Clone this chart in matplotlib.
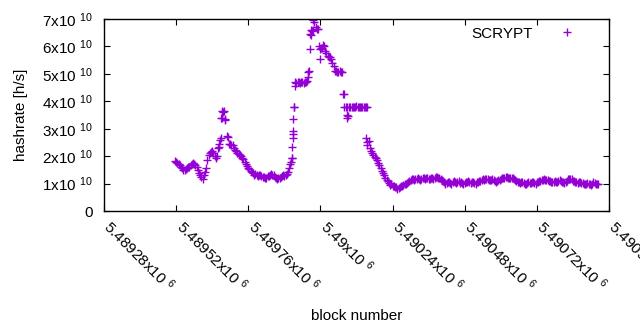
import numpy as np
import matplotlib.pyplot as plt
import matplotlib.transforms as mtransforms
from matplotlib.ticker import FuncFormatter, MultipleLocator

plt.rcParams['font.family'] = ['Liberation Sans', 'DejaVu Sans']
plt.rcParams['mathtext.fontset'] = 'custom'
plt.rcParams['mathtext.rm'] = 'Liberation Sans'
plt.rcParams['mathtext.default'] = 'regular'

# hashrate sampled every 8 blocks, in units of 1e10 h/s
first_block = 5489516
block_step = 8
rate = [
    1.82, 1.75, 1.68, 1.55, 1.50, 1.57, 1.62, 1.70, 1.72, 1.62,
    1.40, 1.25, 1.30, 1.55, 2.05, 2.15, 2.12, 1.95, 2.30, 2.65,
    3.60, 3.30, 2.70, 2.45, 2.40, 2.22, 2.12, 2.05, 1.95, 1.80,
    1.65, 1.52, 1.42, 1.33, 1.30, 1.30, 1.28, 1.25, 1.22, 1.28,
    1.35, 1.30, 1.22, 1.20, 1.25, 1.30, 1.30, 1.42, 1.70, 2.80,
    4.70, 4.70, 4.68, 4.70, 4.70, 4.75, 5.90, 6.55, 6.90, 6.65,
    6.00, 5.95, 6.00, 5.75, 5.60, 5.55, 5.30, 5.10, 5.05, 5.05,
    4.25, 3.80, 3.45, 3.80, 3.80, 3.80, 3.80, 3.80, 3.80, 3.80,
    3.80, 2.30, 2.10, 1.98, 1.85, 1.68, 1.45, 1.30, 1.12, 1.02,
    0.97, 0.92, 0.86, 0.85, 0.90, 0.95, 1.00, 1.05, 1.12, 1.18,
    1.15, 1.20, 1.12, 1.22, 1.18, 1.20, 1.15, 1.20, 1.22, 1.25,
    1.20, 1.12, 1.05, 1.02, 1.05, 1.00, 1.08, 1.03, 1.08, 1.05,
    1.00, 1.05, 1.08, 1.02, 1.05, 1.00, 1.06, 1.10, 1.15, 1.15,
    1.18, 1.12, 1.15, 1.10, 1.08, 1.14, 1.20, 1.22, 1.24, 1.20,
    1.22, 1.18, 1.10, 1.04, 1.06, 1.02, 1.00, 1.05, 1.02, 1.04,
    1.00, 1.06, 1.10, 1.14, 1.14, 1.12, 1.10, 1.04, 1.08, 1.05,
    1.12, 1.06, 1.02, 1.10, 1.18, 1.15, 1.08, 1.05, 1.05, 1.02,
    1.00, 0.98, 1.00, 0.95, 1.05, 0.98, 1.00,
]

# readings halfway between the samples above (offset by 4 blocks)
rate_mid = [
    1.78, 1.70, 1.62, 1.48, 1.54, 1.60, 1.66, 1.74, 1.68, 1.50,
    1.32, 1.18, 1.42, 1.85, 2.12, 2.18, 2.00, 2.02, 2.45, 3.40,
    3.65, 2.72, 2.45, 2.42, 2.30, 2.18, 2.08, 2.00, 1.88, 1.72,
    1.58, 1.46, 1.38, 1.35, 1.28, 1.32, 1.24, 1.20, 1.26, 1.32,
    1.32, 1.25, 1.18, 1.22, 1.28, 1.26, 1.35, 1.55, 1.95, 3.80,
    4.65, 4.72, 4.70, 4.68, 4.72, 5.05, 6.40, 6.60, 6.70, 6.62,
    5.90, 6.05, 5.85, 5.65, 5.62, 5.40, 5.10, 5.08, 5.10, 5.05,
    3.80, 3.80, 3.80, 3.78, 3.80, 3.82, 3.80, 3.78, 3.80, 3.80,
    2.55, 2.20, 2.05, 1.92, 1.75, 1.55, 1.38, 1.20, 1.08, 0.95,
    0.90, 0.88, 0.82, 0.88, 0.92, 0.98, 1.02, 1.10, 1.15, 1.12,
    1.18, 1.15, 1.18, 1.20, 1.22, 1.16, 1.22, 1.18, 1.24, 1.22,
    1.15, 1.08, 1.00, 1.04, 1.02, 1.05, 1.05, 1.06, 1.02, 1.03,
    1.03, 1.06, 1.04, 1.06, 1.02, 1.04, 1.08, 1.12, 1.12, 1.16,
    1.14, 1.14, 1.12, 1.06, 1.12, 1.17, 1.20, 1.25, 1.21, 1.20,
    1.20, 1.14, 1.06, 1.02, 1.04, 1.00, 1.03, 1.02, 1.05, 1.02,
    1.04, 1.08, 1.12, 1.16, 1.12, 1.10, 1.06, 1.06, 1.04, 1.08,
    1.08, 1.04, 1.06, 1.15, 1.16, 1.10, 1.06, 1.03, 1.04, 1.01,
    0.99, 1.01, 0.97, 1.00, 1.02, 0.99,
]

# extra blocks around the steep jumps
extra_blocks = [5489663, 5489666, 5489670, 5489674, 5489681,
                5489903, 5489904, 5489906, 5489908, 5489909, 5489910,
                5489913, 5489914, 5489959, 5489962, 5489966, 5489969,
                5489976, 5489997, 5490001, 5490077, 5490087, 5490089,
                5490152, 5490154, 5490156]
extra_rate = [2.35, 2.60, 3.40, 3.65, 3.35,
              1.80, 1.95, 2.35, 2.65, 2.90, 3.35,
              3.80, 4.55, 4.90, 5.10, 6.45, 6.60,
              6.95, 5.55, 5.95, 4.25, 3.50, 3.40,
              2.65, 2.50, 2.40]

blocks = first_block + block_step * np.arange(len(rate))
blocks_mid = first_block + block_step // 2 + block_step * np.arange(len(rate_mid))
x = np.concatenate([blocks, blocks_mid, extra_blocks])
y = np.concatenate([rate, rate_mid, extra_rate]) * 1e10

fig = plt.figure(figsize=(6.4, 3.3), dpi=100)
ax = fig.add_axes([0.1625, 0.3606, 0.789, 0.5818])

ax.plot(x, y, '+', color='#9400d3', markersize=5.5, markeredgewidth=1.0,
        label='SCRYPT')

ax.set_xlim(5489280, 5490960)
ax.set_ylim(0, 7e10)
ax.xaxis.set_major_locator(MultipleLocator(240))
ax.yaxis.set_major_locator(MultipleLocator(1e10))


def xfmt(v, pos):
    return '%gx10 $^{6}$' % (v / 1e6)


def yfmt(v, pos):
    if v == 0:
        return '0'
    return '%gx10 $^{10}$' % (v / 1e10)


ax.xaxis.set_major_formatter(FuncFormatter(xfmt))
ax.yaxis.set_major_formatter(FuncFormatter(yfmt))

ax.tick_params(direction='in', length=4, width=0.8, top=True, right=True,
               labelsize=11, colors='black')
ax.tick_params(axis='y', pad=8)
ax.tick_params(axis='x', pad=9)
shift = mtransforms.ScaledTranslation(3 / 100, 0, fig.dpi_scale_trans)
for lab in ax.get_xticklabels():
    lab.set_rotation(-45)
    lab.set_ha('left')
    lab.set_va('center')
    lab.set_rotation_mode('anchor')
    lab.set_transform(lab.get_transform() + shift)

for s in ax.spines.values():
    s.set_linewidth(1.0)

ax.set_xlabel('block number', fontsize=11)
ax.set_ylabel('hashrate [h/s]', fontsize=11)
ax.xaxis.set_label_coords(0.5, -0.51)
ax.yaxis.set_label_coords(-0.15, 0.5)

ax.legend(loc='upper right', markerfirst=False, frameon=False, fontsize=11,
          handlelength=2.5, handletextpad=1.0, borderaxespad=0.3,
          bbox_to_anchor=(0.976, 1.016))

fig.savefig('out.png', dpi=100)
